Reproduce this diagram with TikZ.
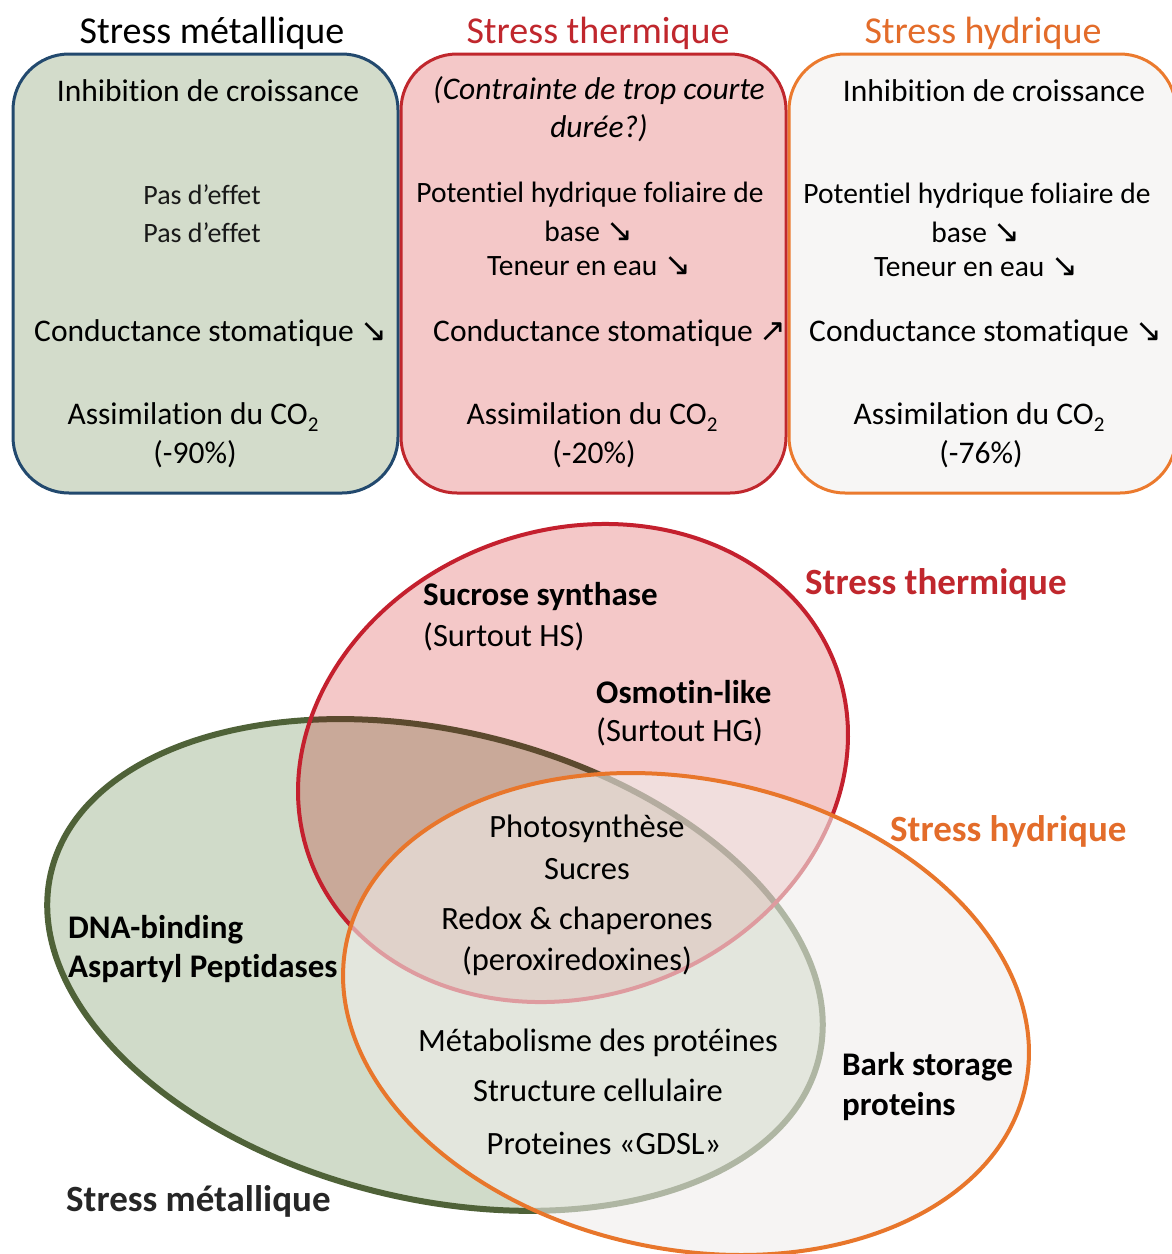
\documentclass[tikz,border=0pt]{standalone}
\usepackage{fontspec}
\setmainfont{Carlito}[Ligatures=NoCommon]
\newfontfamily\arrfont{DejaVu Sans}
\definecolor{boxGfill}{RGB}{211,220,203}
\definecolor{boxGline}{RGB}{34,73,110}
\definecolor{boxRfill}{RGB}{244,200,200}
\definecolor{boxRline}{RGB}{192,39,45}
\definecolor{boxOfill}{RGB}{247,246,245}
\definecolor{boxOline}{RGB}{235,122,46}
\definecolor{ttlRed}{RGB}{192,39,45}
\definecolor{ttlOrange}{RGB}{227,108,42}
\definecolor{vGfill}{RGB}{208,219,201}
\definecolor{vGline}{RGB}{79,98,56}
\definecolor{vRfill}{RGB}{244,200,200}
\definecolor{vRline}{RGB}{196,32,46}
\definecolor{vGRfill}{RGB}{201,169,153}
\definecolor{vGRline}{RGB}{92,74,46}
\definecolor{vOfill}{RGB}{240,238,235}
\definecolor{vOline}{RGB}{232,118,43}
\newcommand\ttlfont{\fontsize{38}{44}\selectfont}
\newcommand\boxfont{\fontsize{31.5}{36}\selectfont}
\newcommand\boxfontS{\fontsize{29.5}{34}\selectfont}
\newcommand\pasfont{\fontsize{28}{34}\selectfont}
\newcommand\vennfont{\fontsize{32.5}{38}\selectfont}
\newcommand\vboldfont{\fontsize{33}{38}\selectfont\bfseries}
\newcommand\vlabfont{\fontsize{37}{42}\selectfont\bfseries}
\newcommand\dnarr{{\arrfont\fontsize{32}{36}\selectfont ↘}}
\newcommand\uparr{{\arrfont\fontsize{32}{36}\selectfont ↗}}
\newcommand\cotwo{CO\raisebox{-0.22em}{\fontsize{21}{21}\selectfont 2}}
\begin{document}
\begin{tikzpicture}[x=1pt,y=-1pt,
  panel/.style={line width=3pt, rounded corners=56pt},
  btxt/.style={font=\boxfont, inner sep=0pt, text=black},
  btxs/.style={font=\boxfontS, inner sep=0pt, text=black},
  vtxt/.style={font=\vennfont, inner sep=0pt, text=black},
  vbold/.style={font=\vboldfont, inner sep=0pt, text=black, anchor=west},
  vlab/.style={font=\vlabfont, inner sep=0pt, anchor=west},
  ttl/.style={font=\ttlfont, inner sep=0pt}]
\useasboundingbox (0,0) rectangle (1172,1254);
\fill[white] (0,0) rectangle (1172,1254);

% ---------- top panels ----------
\draw[panel, draw=boxGline, fill=boxGfill] (13,54) rectangle (398,493);
\draw[panel, draw=boxRline, fill=boxRfill] (401,54) rectangle (786,493);
\draw[panel, draw=boxOline, fill=boxOfill] (789,54) rectangle (1176,493);

\node[ttl, text=black] (tM) at (212,33) {Stress métallique};
\node[ttl, text=ttlRed] (tT) at (598,33) {Stress thermique};
\node[ttl, text=ttlOrange] (tH) at (983,33) {Stress hydrique};

% metal panel
\node[btxt] (m1) at (208,91) {Inhibition de croissance};
\node[btxt, font=\pasfont, text=black!90] (m2) at (202,195) {Pas d’effet};
\node[btxt, font=\pasfont, text=black!90] (m3) at (202,233) {Pas d’effet};
\node[btxt] (m4) at (211,333) {Conductance stomatique \dnarr};
\node[btxt] (m5) at (193,417) {Assimilation du \cotwo};
\node[btxt] (m6) at (195,454) {(-90\%)};

% thermal panel
\node[btxt, font=\boxfont\itshape] (r1) at (599,91) {(Contrainte de trop courte};
\node[btxt, font=\boxfont\itshape] (r2) at (599,128) {durée?)};
\node[btxs] (r3) at (590,195) {Potentiel hydrique foliaire de};
\node[btxs] (r4) at (589,231) {base \dnarr};
\node[btxs] (r5) at (589,266) {Teneur en eau \dnarr};
\node[btxt] (r6) at (610,333) {Conductance stomatique \uparr};
\node[btxt] (r7) at (592,417) {Assimilation du \cotwo};
\node[btxt] (r8) at (594,454) {(-20\%)};

% hydric panel
\node[btxt] (h1) at (994,91) {Inhibition de croissance};
\node[btxs] (h3) at (977,196) {Potentiel hydrique foliaire de};
\node[btxs] (h4) at (976,232) {base \dnarr};
\node[btxs] (h5) at (976,267) {Teneur en eau \dnarr};
\node[btxt] (h6) at (986,333) {Conductance stomatique \dnarr};
\node[btxt] (h7) at (979,417) {Assimilation du \cotwo};
\node[btxt] (h8) at (981,454) {(-76\%)};

% ---------- Venn diagram ----------
\coordinate (cG) at (435,965);
\coordinate (cR) at (573,763);
\coordinate (cO) at (686,1014);
% metal ellipse
\fill[vGfill, rotate around={-13.7:(cG)}] (cG) ellipse [x radius=395, y radius=234];
\draw[vGline, line width=6pt, rotate around={-13.7:(cG)}] (cG) ellipse [x radius=395, y radius=234];
% thermal ellipse (multiplied look over the metal ellipse)
\fill[vRfill, rotate around={20:(cR)}] (cR) ellipse [x radius=280, y radius=233];
\begin{scope}
  \clip[rotate around={20:(cR)}] (cR) ellipse [x radius=280, y radius=233];
  \fill[vGRfill, rotate around={-13.7:(cG)}] (cG) ellipse [x radius=395, y radius=234];
  \draw[vGRline, line width=6pt, rotate around={-13.7:(cG)}] (cG) ellipse [x radius=395, y radius=234];
\end{scope}
\draw[vRline, line width=4pt, rotate around={20:(cR)}] (cR) ellipse [x radius=280, y radius=233];
% hydric ellipse
\fill[vOfill, fill opacity=0.6, rotate around={-12:(cO)}] (cO) ellipse [x radius=347, y radius=235];
\draw[vOline, line width=4pt, rotate around={-12:(cO)}] (cO) ellipse [x radius=347, y radius=235];

% Venn labels
\node[vlab, text=ttlRed] (lT) at (805,584) {Stress thermique};
\node[vlab, text=ttlOrange] (lH) at (890,831) {Stress hydrique};
\node[vlab, text=black!85] (lM) at (66,1201) {Stress métallique};

\node[vbold] (s1) at (423,597) {Sucrose synthase};
\node[vtxt, anchor=west] (s2) at (423,637) {(Surtout HS)};
\node[vbold] (o1) at (596,692) {Osmotin-like};
\node[vtxt, anchor=west] (o2) at (596,732) {(Surtout HG)};

\node[vtxt] (c1) at (587,829) {Photosynthèse};
\node[vtxt] (c2) at (587,869) {Sucres};
\node[vtxt] (c3) at (577,921) {Redox \& chaperones};
\node[vtxt] (c4) at (577,961) {(peroxiredoxines)};

\node[vbold] (d1) at (68,930) {DNA-binding};
\node[vbold] (d2) at (68,969) {Aspartyl Peptidases};

\node[vtxt] (g1) at (598,1043) {Métabolisme des protéines};
\node[vtxt] (g2) at (598,1090) {Structure cellulaire};
\node[vtxt] (g3) at (604,1143) {Proteines «GDSL»};

\node[vbold] (b1) at (842,1067) {Bark storage};
\node[vbold] (b2) at (842,1107) {proteins};
\end{tikzpicture}
\end{document}
